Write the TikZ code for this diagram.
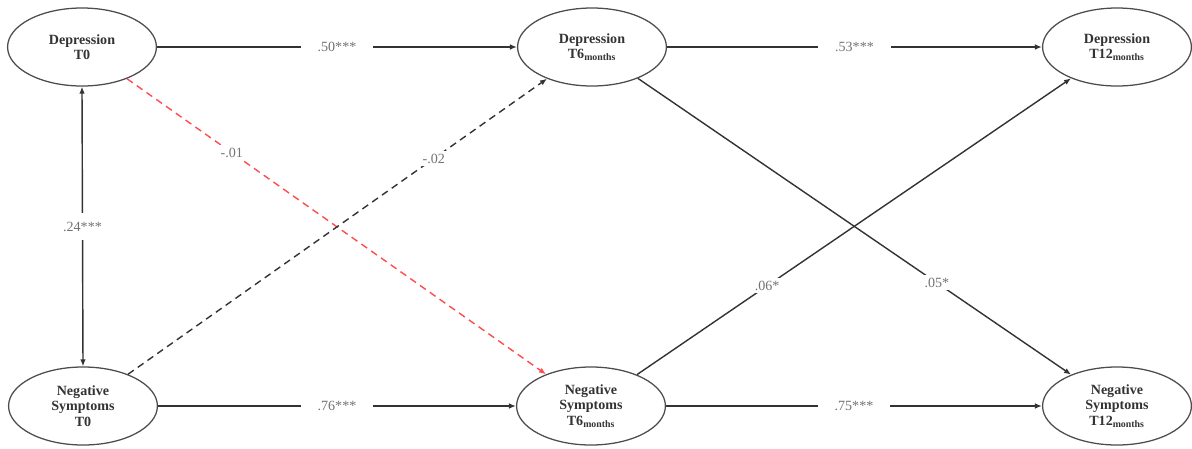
\documentclass[tikz,border=0pt]{standalone}
\usepackage{amsmath}
\usepackage{fontspec}
\setmainfont{Liberation Serif}
\usepackage{tikz}
\usetikzlibrary{arrows.meta,shapes.geometric}
\usepackage{xcolor}

\begin{document}
\begin{tikzpicture}[x = 0.025cm, y = -0.025cm,
  latent/.style = {draw, ellipse, line width = 0.9pt, black!70, text = black!80, font = \bfseries,
    minimum width = 3.72cm, minimum height = 1.95cm, align = center, inner sep = 0pt},
  path/.style = {-{Latex[length=5pt,width=4pt]}, line width = 1pt, black!80},
  coef/.style = {fill = white, text = black!55, inner xsep = 12pt, inner ysep = 2pt}]
\useasboundingbox (0,0) rectangle (1192,448);
\node[latent] (dep0) at (82,47) {Depression\\[-1pt]T0};
\node[latent] (dep6) at (592,47) {Depression\\[-1pt]T6$_{\text{months}}$};
\node[latent] (dep12) at (1117,47) {Depression\\[-1pt]T12$_{\text{months}}$};
\node[latent] (neg0) at (83,406) {Negative\\[-1pt]Symptoms\\[-1pt]T0};
\node[latent] (neg6) at (591,406) {Negative\\[-1pt]Symptoms\\[-1pt]T6$_{\text{months}}$};
\node[latent] (neg12) at (1117,406) {Negative\\[-1pt]Symptoms\\[-1pt]T12$_{\text{months}}$};
% stability paths
\draw[path] (dep0) -- node[coef] {.50***} (dep6);
\draw[path] (dep6) -- node[coef] {.53***} (dep12);
\draw[path] (neg0) -- node[coef] {.76***} (neg6);
\draw[path] (neg6) -- node[coef] {.75***} (neg12);
% correlation at T0
\draw[path, {Latex[length=5pt,width=4pt]}-{Latex[length=5pt,width=4pt]}] (dep0.south) -- node[coef, inner xsep = 2pt, inner ysep = 6pt] {.24***} (neg0.north);
% cross-lagged paths
\draw[path, dash pattern = on 5pt off 3.5pt, red!70] (dep0) -- node[coef, pos = 0.25, inner xsep = 3pt] {-.01} (neg6);
\draw[path, dash pattern = on 5pt off 3.5pt] (neg0) -- node[coef, pos = 0.73, inner xsep = 3pt] {-.02} (dep6);
\draw[path] (dep6) -- node[coef, pos = 0.69, inner xsep = 3pt] {.05*} (neg12);
\draw[path] (neg6) -- node[coef, pos = 0.3, inner xsep = 3pt] {.06*} (dep12);
\end{tikzpicture}
\end{document}
